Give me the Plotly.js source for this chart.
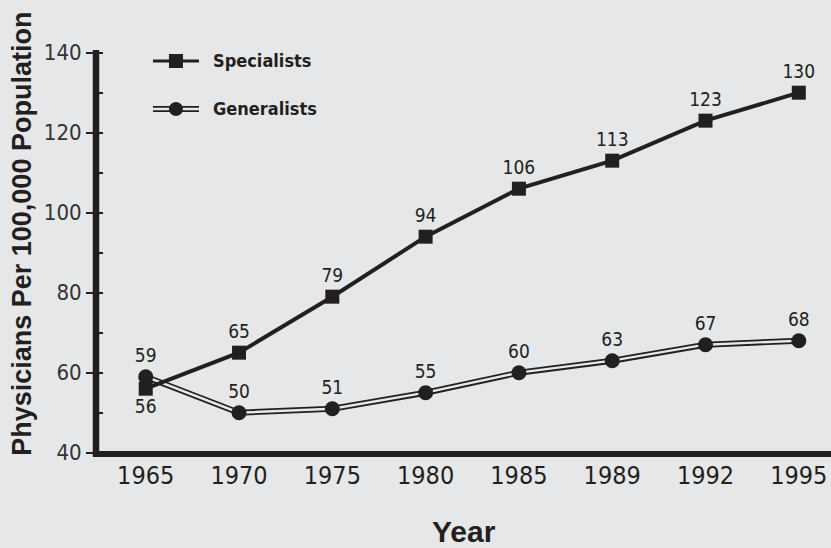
<!DOCTYPE html>
<html>
<head>
<meta charset="utf-8">
<script src="https://cdn.plot.ly/plotly-3.0.1.min.js"></script>
<style>
html,body{margin:0;padding:0;background:#e6e7e8;}
#chart{width:831px;height:548px;}
</style>
</head>
<body>
<div id="chart"></div>
<script>
const years = ["1965","1970","1975","1980","1985","1989","1992","1995"];
const specialists = [56, 65, 79, 94, 106, 113, 123, 130];
const generalists = [59, 50, 51, 55, 60, 63, 67, 68];
const seriesNames = ["Specialists", "Generalists"];

const BG = "#e6e7e8";
const INK = "#231f20";
const NARROW = "'DejaVu Sans Condensed', 'Liberation Sans Narrow', sans-serif";
const BOLD = "'Liberation Sans', Arial, sans-serif";

const specPos = specialists.map((v, i) => i === 0 ? "bottom center" : "top center");

const traces = [
  {x: years, y: generalists, mode: "lines", line: {color: INK, width: 6}, hoverinfo: "skip", showlegend: false},
  {x: years, y: generalists, mode: "lines", line: {color: BG, width: 2.4}, hoverinfo: "skip", showlegend: false},
  {x: years, y: generalists, mode: "markers+text", name: seriesNames[1], showlegend: false,
   marker: {symbol: "circle", size: 15, color: INK},
   text: generalists.map(String), textposition: "top center",
   textfont: {family: NARROW, size: 19, color: INK}},
  {x: years, y: specialists, mode: "lines+markers+text", name: seriesNames[0], showlegend: false,
   line: {color: INK, width: 4},
   marker: {symbol: "square", size: 14, color: INK},
   text: specialists.map(String), textposition: specPos,
   textfont: {family: NARROW, size: 19, color: INK}}
];

// legend and axis lines (decorative, paper coordinates)
const lx0 = 0.0775, lx1 = 0.1401, lxc = 0.1088, ltx = 0.1565;
const ly1 = 0.9728, ly2 = 0.854;
const shapes = [
  {type: "line", xref: "paper", yref: "paper", x0: 0, x1: 0, y0: -0.007, y1: 1.0, line: {color: INK, width: 6.5}},
  {type: "line", xref: "paper", yref: "paper", x0: -0.004, x1: 1.01, y0: 0, y1: 0, line: {color: INK, width: 6}},
  {type: "line", xref: "paper", yref: "paper", x0: lx0, x1: lx1, y0: ly1, y1: ly1, line: {color: INK, width: 3}},
  {type: "rect", xref: "paper", yref: "paper", xsizemode: "pixel", ysizemode: "pixel", xanchor: lxc, yanchor: ly1,
   x0: -7, x1: 7, y0: -7, y1: 7, fillcolor: INK, line: {width: 0}},
  {type: "line", xref: "paper", yref: "paper", x0: lx0, x1: lx1, y0: ly2, y1: ly2, line: {color: INK, width: 6}},
  {type: "line", xref: "paper", yref: "paper", x0: lx0, x1: lx1, y0: ly2, y1: ly2, line: {color: BG, width: 2.4}},
  {type: "circle", xref: "paper", yref: "paper", xsizemode: "pixel", ysizemode: "pixel", xanchor: lxc, yanchor: ly2,
   x0: -7, x1: 7, y0: -7, y1: 7, fillcolor: INK, line: {width: 0}}
];

const annotations = [
  {xref: "paper", yref: "paper", x: ltx, y: ly1, xanchor: "left", yanchor: "middle", showarrow: false,
   text: seriesNames[0], font: {family: NARROW, size: 18, color: INK, weight: "bold"}},
  {xref: "paper", yref: "paper", x: ltx, y: ly2, xanchor: "left", yanchor: "middle", showarrow: false,
   text: seriesNames[1], font: {family: NARROW, size: 18, color: INK, weight: "bold"}},
  {xref: "paper", yref: "paper", x: -0.1007, y: 0.545, xanchor: "center", yanchor: "middle", showarrow: false,
   textangle: -90, text: "Physicians Per 100,000 Population", font: {family: BOLD, size: 27, color: INK, weight: "bold"}},
  {xref: "paper", yref: "paper", x: 0.5, y: -0.193, xanchor: "center", yanchor: "middle", showarrow: false,
   text: "Year", font: {family: BOLD, size: 30, color: INK, weight: "bold"}}
];

const layout = {
  width: 831, height: 548,
  paper_bgcolor: BG, plot_bgcolor: BG,
  margin: {l: 96, r: 0, t: 50, b: 94},
  showlegend: false,
  xaxis: {
    type: "category", range: [-0.533, 7.345],
    showline: false,
    ticks: "", showgrid: false, zeroline: false,
    ticklabelstandoff: 4,
    tickfont: {family: NARROW, size: 25, color: INK}
  },
  yaxis: {
    range: [39.67, 140.67], tickvals: [40, 60, 80, 100, 120, 140],
    showline: false,
    ticks: "outside", ticklen: 9, tickwidth: 2, tickcolor: INK,
    minor: {tickvals: [40, 50, 60, 70, 80, 90, 100, 110, 120, 130, 140], ticks: "inside", ticklen: 7, tickwidth: 2, tickcolor: INK},
    showgrid: false, zeroline: false,
    tickfont: {family: NARROW, size: 22, color: "#333"}
  },
  shapes: shapes,
  annotations: annotations
};

Plotly.newPlot("chart", traces, layout, {displayModeBar: false, staticPlot: true});
</script>
</body>
</html>
